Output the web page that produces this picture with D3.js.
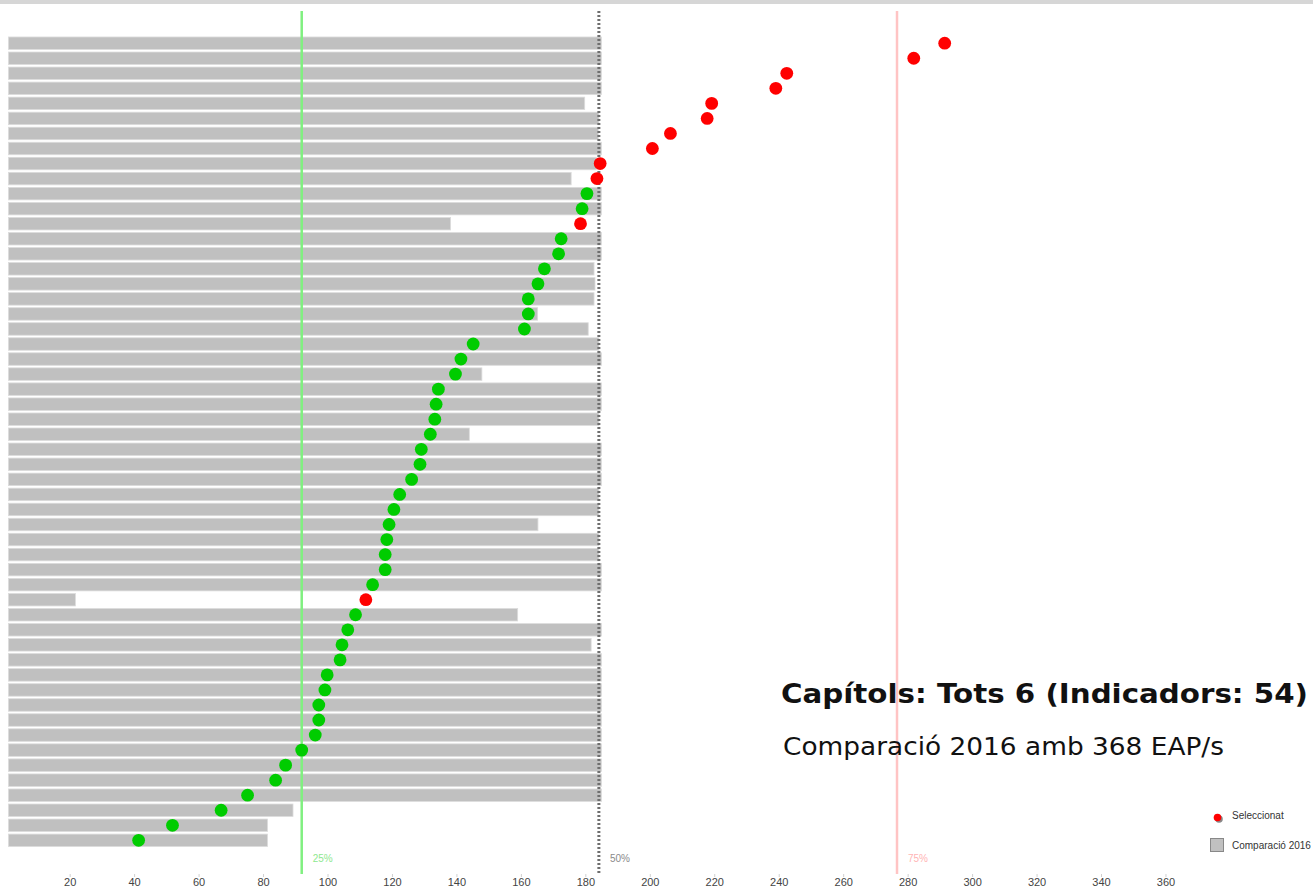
<!DOCTYPE html>
<html>
<head>
<meta charset="utf-8">
<script src="https://cdn.jsdelivr.net/npm/d3@7"></script>
<style>
  body { margin: 0; background: #fff; }
  svg { display: block; }
</style>
</head>
<body>
<svg id="chart" width="1313" height="888"></svg>
<script>
// posició de cada indicador (punt) i comparació 2016 (barra), ordenats
const valors = [291.5, 281.9, 242.5, 239.1, 219.2, 217.8, 206.4, 200.8, 184.6, 183.6,
  180.5, 179.0, 178.5, 172.5, 171.7, 167.3, 165.3, 162.3, 162.3, 161.1,
  145.2, 141.4, 139.7, 134.4, 133.7, 133.3, 131.9, 129.1, 128.7, 126.1,
  122.4, 120.6, 119.1, 118.4, 117.9, 117.9, 114.0, 111.9, 108.7, 106.3,
  104.5, 103.9, 99.9, 99.2, 97.3, 97.3, 96.2, 92.0, 87.0, 83.9,
  75.2, 67.0, 51.9, 41.4];
const comparacio2016 = [185, 185, 185, 185, 179.8, 184.2, 184, 185, 183.4, 175.6,
  185, 185, 138.2, 185, 185, 182.7, 183, 182.7, 165.2, 180.9,
  184.2, 185, 147.9, 185, 185, 184.2, 144, 185, 185, 185,
  184.2, 184.2, 165.3, 184.2, 184.2, 185, 185, 21.8, 159, 185,
  181.8, 185, 185, 185, 185, 185, 185, 185, 185, 185,
  185, 89.3, 81.4, 81.4];
// 1 = seleccionat (vermell)
const seleccionat = [1, 1, 1, 1, 1, 1, 1, 1, 1, 1,
  0, 0, 1, 0, 0, 0, 0, 0, 0, 0,
  0, 0, 0, 0, 0, 0, 0, 0, 0, 0,
  0, 0, 0, 0, 0, 0, 0, 1, 0, 0,
  0, 0, 0, 0, 0, 0, 0, 0, 0, 0,
  0, 0, 0, 0];
const totalEAP = 368;
const percentils = [
  { label: '25%', value: 92, color: '#80f080', textColor: '#8ee88e', dash: null },
  { label: '50%', value: 184.2, color: '#6e6e6e', textColor: '#8a8a8a', dash: '2,2' },
  { label: '75%', value: 276.7, color: '#ffc4c4', textColor: '#ffb4b4', dash: null }
];
const ticks = d3.range(20, 361, 20);
const titol = 'Capítols: Tots 6 (Indicadors: 54)';
const subtitol = 'Comparació 2016 amb 368 EAP/s';
const legendLabels = ['Seleccionat', 'Comparació 2016'];

const svg = d3.select('#chart');
const smallFont = '"Liberation Sans", Arial, sans-serif';

// barra grisa de dalt
svg.append('rect').attr('x', 0).attr('y', 0).attr('width', 1313).attr('height', 4).attr('fill', '#d6d6d6');

const x = d3.scaleLinear().domain([0, totalEAP]).range([5.2, 5.2 + 3.223 * totalEAP]);
const y = d3.scaleBand()
  .domain(d3.range(valors.length))
  .range([35.7, 35.7 + valors.length * 15.04])
  .paddingInner(0.17)
  .paddingOuter(0.085);

// barres
svg.append('g').selectAll('rect')
  .data(comparacio2016)
  .join('rect')
  .attr('x', x(1))
  .attr('y', (d, i) => y(i))
  .attr('width', d => x(d) - x(1))
  .attr('height', y.bandwidth())
  .attr('fill', '#c0c0c0')
  .attr('stroke', '#dcdcdc')
  .attr('stroke-width', 0.8);

// línies de percentil
const pg = svg.append('g');
pg.selectAll('line')
  .data(percentils)
  .join('line')
  .attr('x1', d => x(d.value)).attr('x2', d => x(d.value))
  .attr('y1', 11).attr('y2', 874)
  .attr('stroke', d => d.color)
  .attr('stroke-width', d => d.dash ? 3 : 2.5)
  .attr('stroke-dasharray', d => d.dash);
pg.selectAll('text')
  .data(percentils)
  .join('text')
  .attr('x', d => x(d.value) + 11)
  .attr('y', 862)
  .attr('font-family', smallFont)
  .attr('font-size', 10)
  .attr('fill', d => d.textColor)
  .text(d => d.label);

// punts
svg.append('g').selectAll('circle')
  .data(valors)
  .join('circle')
  .attr('cx', d => x(d))
  .attr('cy', (d, i) => y(i) + y.bandwidth() / 2)
  .attr('r', 6.4)
  .attr('fill', (d, i) => seleccionat[i] ? '#ff0000' : '#00cc00');

// eix x (etiquetes i marques petites)
const axis = svg.append('g')
  .attr('transform', 'translate(0,874)')
  .call(d3.axisBottom(x).tickValues(ticks).tickSize(3).tickPadding(1));
axis.select('.domain').remove();
axis.selectAll('line').attr('stroke', '#d0d0d0');
axis.selectAll('text')
  .attr('font-family', smallFont)
  .attr('font-size', 11)
  .attr('fill', '#444');

// títol
svg.append('text')
  .attr('x', 781).attr('y', 703)
  .attr('font-family', '"DejaVu Sans", Verdana, sans-serif')
  .attr('font-weight', 'bold')
  .attr('font-size', 26)
  .attr('textLength', 527)
  .attr('lengthAdjust', 'spacingAndGlyphs')
  .attr('fill', '#111')
  .text(titol);
svg.append('text')
  .attr('x', 783).attr('y', 755)
  .attr('font-family', '"DejaVu Sans", Verdana, sans-serif')
  .attr('font-size', 25)
  .attr('textLength', 441)
  .attr('lengthAdjust', 'spacingAndGlyphs')
  .attr('fill', '#111')
  .text(subtitol);

// llegenda
const lg = svg.append('g');
lg.append('circle').attr('cx', 1219).attr('cy', 819).attr('r', 3.8).attr('fill', '#888');
lg.append('circle').attr('cx', 1217.5).attr('cy', 817.5).attr('r', 3.8).attr('fill', '#ff0000');
lg.append('rect').attr('x', 1210.5).attr('y', 838.5).attr('width', 13).attr('height', 13)
  .attr('fill', '#c0c0c0').attr('stroke', '#888');
lg.selectAll('text')
  .data(legendLabels)
  .join('text')
  .attr('x', 1232)
  .attr('y', (d, i) => 819 + i * 29.5)
  .attr('font-family', smallFont)
  .attr('font-size', 10)
  .attr('fill', '#333')
  .text(d => d);
</script>
</body>
</html>
